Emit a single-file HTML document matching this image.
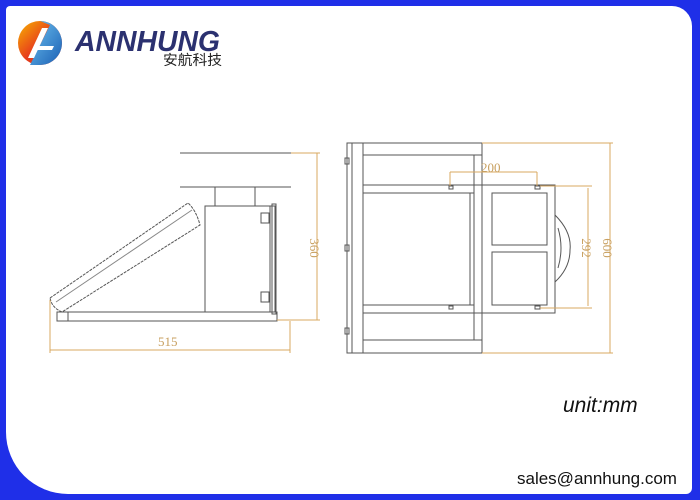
<!DOCTYPE html>
<html><head><meta charset="utf-8"><style>
html,body{margin:0;padding:0;}
body{width:700px;height:500px;background:#1f2fe8;position:relative;overflow:hidden;font-family:"Liberation Sans",sans-serif;}
#inner{position:absolute;left:6px;top:6px;width:686px;height:488px;background:#fff;border-radius:4px 20px 6px 62px;overflow:hidden;}
svg{position:absolute;left:0;top:0;}
</style></head><body>
<div id="inner"></div>
<svg width="700" height="500" viewBox="0 0 700 500">
<defs>
<linearGradient id="lg" x1="0" y1="0" x2="1" y2="1">
<stop offset="0" stop-color="#f7b300"/><stop offset="0.5" stop-color="#e8401c"/><stop offset="1" stop-color="#c0201a"/></linearGradient>
<linearGradient id="lb" x1="0" y1="0" x2="1" y2="1">
<stop offset="0" stop-color="#6fc3f0"/><stop offset="1" stop-color="#1a5fb4"/></linearGradient>
</defs>
<circle cx="40" cy="43" r="22" fill="url(#lg)"/>
<path d="M40 21 A22 22 0 0 1 62 43 A22 22 0 0 1 40 65 L30 65 L50 25 Z" fill="url(#lb)"/>
<path d="M28 58 L42 28 L48 28 L34 58 Z M36 46 L54 46 L52 50 L34 50 Z" fill="#fff"/>
<text x="75" y="51" font-size="29" font-weight="bold" font-style="italic" fill="#2b3170" textLength="145" lengthAdjust="spacingAndGlyphs">ANNHUNG</text>
<text x="163" y="65" font-size="14" font-family="Noto Sans CJK SC, sans-serif" fill="#222" textLength="59" lengthAdjust="spacingAndGlyphs">安航科技</text>

<g fill="none" stroke="#555" stroke-width="1">
<line x1="180" y1="153" x2="291" y2="153"/>
<line x1="180" y1="187" x2="291" y2="187"/>
<rect x="215" y="187" width="40" height="19"/>
<rect x="205" y="206" width="65" height="106"/>
<rect x="270" y="206" width="5" height="106"/>
<rect x="272" y="204" width="4" height="110"/>
<rect x="261" y="213" width="8" height="10"/>
<rect x="261" y="292" width="8" height="10"/>
<rect x="57" y="312" width="220" height="9"/>
<line x1="68" y1="312" x2="68" y2="321"/>
<path d="M50 298 L188 203 Q196 210 200 225 L62 312 Q52 308 50 298 Z" stroke-dasharray="3,1"/>
<line x1="56" y1="302" x2="192" y2="210" stroke="#888"/>
<rect x="347" y="143" width="16" height="210"/>
<line x1="352" y1="143" x2="352" y2="353"/>
<rect x="363" y="143" width="119" height="210"/>
<line x1="363" y1="155" x2="482" y2="155"/>
<line x1="363" y1="340" x2="482" y2="340"/>
<rect x="363" y="185" width="192" height="128" fill="#fff"/>
<rect x="363" y="193" width="107" height="112"/>
<rect x="474" y="155" width="8" height="185"/>
<rect x="470" y="193" width="4" height="112"/>
<rect x="492" y="193" width="55" height="52"/>
<rect x="492" y="252" width="55" height="53"/>
<path d="M555 215 Q572 232 570 250 Q570 268 555 282"/>
<path d="M558 228 Q564 248 558 268"/>
<rect x="345" y="158" width="4" height="6"/><rect x="345" y="245" width="4" height="6"/><rect x="345" y="328" width="4" height="6"/>
<rect x="449" y="186" width="4" height="3"/><rect x="535" y="186" width="5" height="3"/>
<rect x="449" y="306" width="4" height="3"/><rect x="535" y="306" width="5" height="3"/>
</g>
<g fill="none" stroke="#d9a860" stroke-width="1">
<line x1="317" y1="153" x2="317" y2="320"/>
<line x1="291" y1="153" x2="320" y2="153"/>
<line x1="277" y1="320" x2="320" y2="320"/>
<line x1="50" y1="350" x2="290" y2="350"/>
<line x1="50" y1="300" x2="50" y2="353"/>
<line x1="290" y1="321" x2="290" y2="353"/>
<line x1="450" y1="172" x2="537" y2="172"/>
<line x1="450" y1="172" x2="450" y2="186"/>
<line x1="537" y1="172" x2="537" y2="186"/>
<line x1="588" y1="188" x2="588" y2="306"/>
<line x1="540" y1="186" x2="592" y2="186"/>
<line x1="540" y1="308" x2="592" y2="308"/>
<line x1="610" y1="143" x2="610" y2="353"/>
<line x1="482" y1="143" x2="613" y2="143"/>
<line x1="482" y1="353" x2="613" y2="353"/>
</g>
<g fill="#c8a060" font-family="Liberation Serif, serif" font-size="13">
<text x="158" y="346">515</text>
<text x="481" y="172">200</text>
<text transform="translate(310,248) rotate(90)" text-anchor="middle">360</text>
<text transform="translate(582,248) rotate(90)" text-anchor="middle">292</text>
<text transform="translate(603,248) rotate(90)" text-anchor="middle">600</text>
</g>
<text x="563" y="412" font-size="21" font-style="italic" fill="#111">unit:mm</text>
<text x="517" y="484" font-size="17" fill="#111">sales@annhung.com</text>
</svg>
</body></html>
